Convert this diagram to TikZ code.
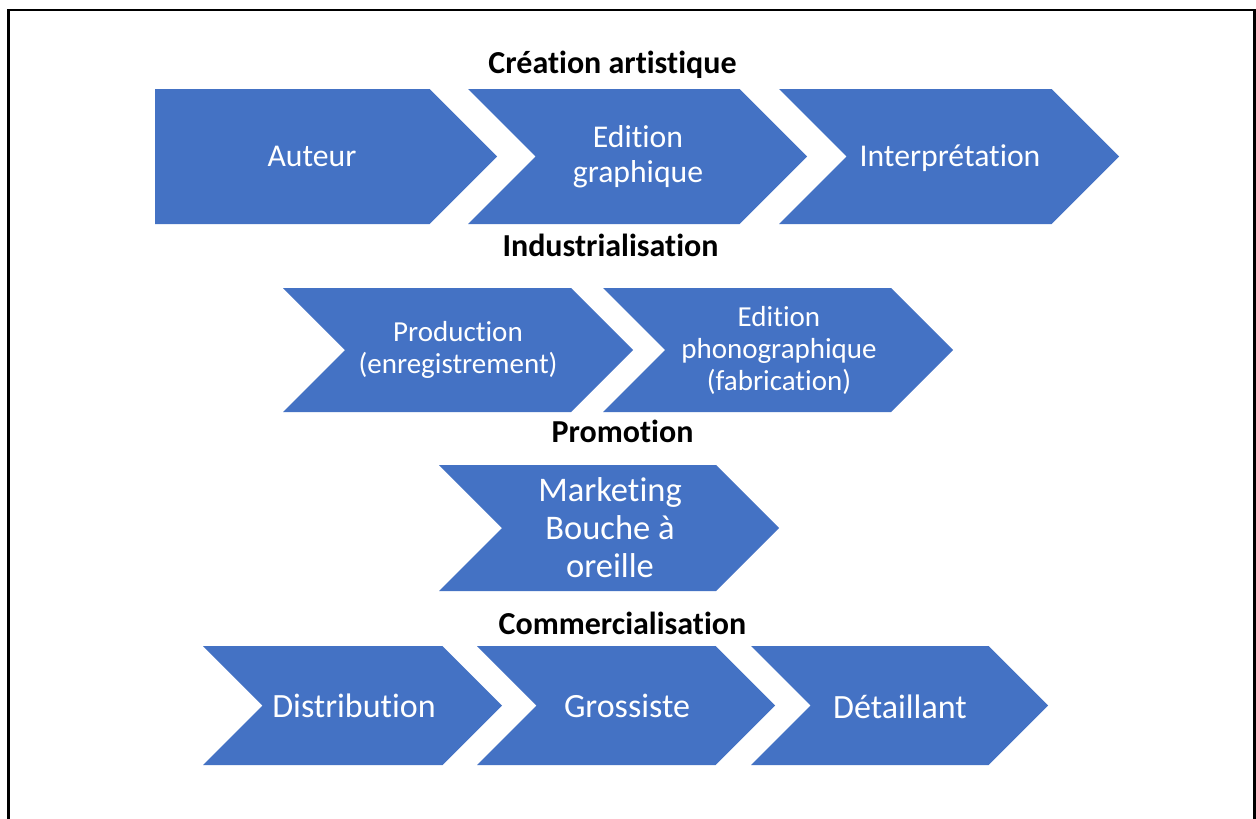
\documentclass[tikz,border=0pt]{standalone}
\usepackage{fontspec}
\setmainfont{Carlito}[Ligatures={NoCommon,NoContextual}]
\definecolor{officeblue}{HTML}{4472C4}
\newcommand{\chevshape}[4]{% left, tip, top, bottom
  \fill[chevfill] (#1,#3) -- ({#2-(#4-#3)/2},#3) -- (#2,{(#3+#4)/2}) -- ({#2-(#4-#3)/2},#4) -- (#1,#4) -- ({#1+(#4-#3)/2},{(#3+#4)/2}) -- cycle;}
\newcommand{\pentshape}[4]{% left, tip, top, bottom
  \fill[chevfill] (#1,#3) -- ({#2-(#4-#3)/2},#3) -- (#2,{(#3+#4)/2}) -- ({#2-(#4-#3)/2},#4) -- (#1,#4) -- cycle;}
\tikzset{
  chevfill/.style={fill=officeblue},
  stagetitle/.style={anchor=base, font=\fontsize{32}{38}\selectfont\bfseries, text=black, inner sep=0},
  lbla/.style={text=white, align=center, inner sep=0, font=\fontsize{31.7}{35}\selectfont},
  lblb/.style={text=white, align=center, inner sep=0, font=\fontsize{29}{32}\selectfont},
  lblc/.style={text=white, align=center, inner sep=0, font=\fontsize{34.5}{38}\selectfont},
  lbld/.style={text=white, align=center, inner sep=0, font=\fontsize{34}{38}\selectfont},
  frameline/.style={draw=black, line width=2.8pt}
}
\begin{document}
\begin{tikzpicture}[x=1pt,y=-1pt]
\useasboundingbox (0,0) rectangle (1256,819);
\fill[white] (0,0) rectangle (1256,819);
% frame
\draw[frameline] (8.7,825) -- (8.7,10) -- (1254.5,10) -- (1254.5,825);
% row 1
\pentshape{155}{497}{89}{224}
\chevshape{468}{807}{89}{224}
\chevshape{779}{1119}{89}{224}
% row 2
\chevshape{283}{633}{288}{412}
\chevshape{603}{953}{288}{412}
% row 3
\chevshape{439}{779}{465}{591}
% row 4
\chevshape{203}{502}{646}{765}
\chevshape{477}{775}{646}{765}
\chevshape{751}{1048}{646}{765}
% titles
\node[stagetitle] (t1) at (612.5,73.3) {Création artistique};
\node[stagetitle] (t2) at (610.5,256) {Industrialisation};
\node[stagetitle] (t3) at (622.5,442) {Promotion};
\node[stagetitle] (t4) at (622.5,634) {Commercialisation};
% labels
\node[lbla] (auteur) at (312,156.5) {Auteur};
\node[lbla] (edgraph) at (638,156.5) {Edition\\graphique};
\node[lbla] (interp) at (950,158.5) {Interprétation};
\node[lblb] (prod) at (458,350) {Production\\(enregistrement)};
\node[lblb] (edphono) at (779,350) {Edition\\phonographique\\(fabrication)};
\node[lblc] (market) at (610,528) {Marketing\\Bouche à\\oreille};
\node[lbld] (distrib) at (354,705.5) {Distribution};
\node[lbld] (gross) at (627,705.5) {Grossiste};
\node[lbld] (detail) at (900,707) {Détaillant};
\end{tikzpicture}
\end{document}
